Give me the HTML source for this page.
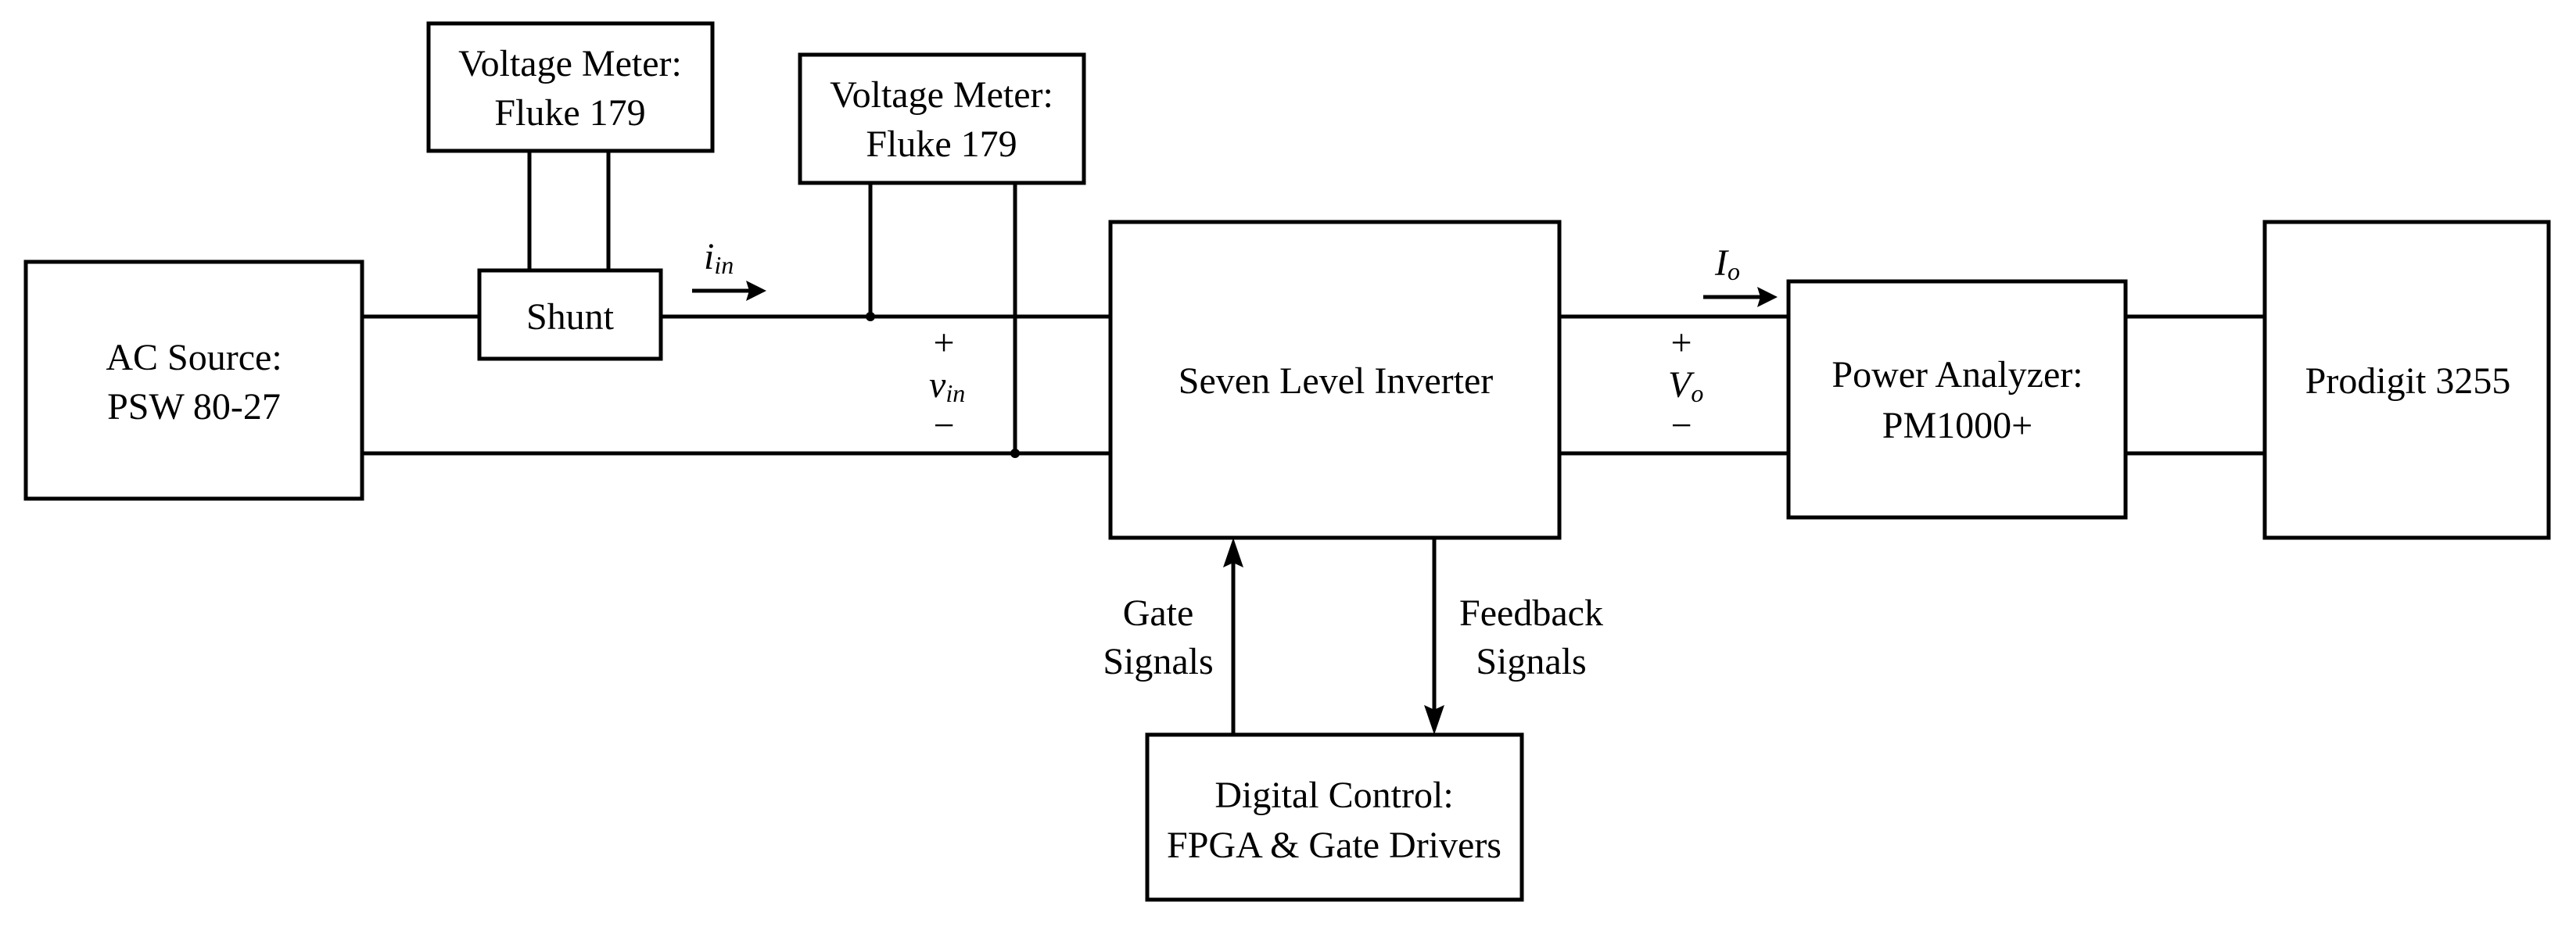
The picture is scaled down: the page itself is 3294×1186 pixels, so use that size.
<!DOCTYPE html>
<html><head><meta charset="utf-8"><style>html,body{margin:0;padding:0;background:#fff}svg{display:block}svg text{font-family:"Liberation Serif","Times New Roman",serif}</style></head>
<body>
<svg width="3294" height="1186" viewBox="0 0 3294 1186" xmlns="http://www.w3.org/2000/svg" font-size="48" fill="#000">
<g fill="none" stroke="#000" stroke-width="5">
<rect x="548" y="30" width="363" height="163"/>
<rect x="1023" y="70" width="363" height="164"/>
<rect x="33" y="335" width="430" height="303"/>
<rect x="613" y="346" width="232" height="113"/>
<rect x="1420" y="284" width="574" height="404"/>
<rect x="2287" y="360" width="431" height="302"/>
<rect x="2896" y="284" width="363" height="404"/>
<rect x="1467" y="940" width="479" height="211"/>
<line x1="677" y1="193" x2="677" y2="346"/>
<line x1="778" y1="193" x2="778" y2="346"/>
<line x1="463" y1="405" x2="613" y2="405"/>
<line x1="845" y1="405" x2="1420" y2="405"/>
<line x1="463" y1="580" x2="1420" y2="580"/>
<line x1="1113" y1="234" x2="1113" y2="405"/>
<line x1="1298" y1="234" x2="1298" y2="580"/>
<line x1="1994" y1="405" x2="2287" y2="405"/>
<line x1="1994" y1="580" x2="2287" y2="580"/>
<line x1="2718" y1="405" x2="2896" y2="405"/>
<line x1="2718" y1="580" x2="2896" y2="580"/>
<line x1="885" y1="372" x2="960" y2="372"/>
<line x1="2178" y1="380" x2="2253" y2="380"/>
<line x1="1577" y1="940" x2="1577" y2="715"/>
<line x1="1834" y1="688" x2="1834" y2="912"/>
</g>
<circle cx="1113" cy="405" r="6"/>
<circle cx="1298" cy="580" r="6"/>
<polygon points="980,372 954,359 958,372 954,385"/>
<polygon points="2273,380 2247,367 2251,380 2247,393"/>
<polygon points="1577,688 1564,726 1577,720 1590,726"/>
<polygon points="1834,940 1821,902 1834,908 1847,902"/>
<g text-anchor="middle">
<text x="729" y="97">Voltage Meter:</text>
<text x="729" y="160">Fluke 179</text>
<text x="1204" y="137">Voltage Meter:</text>
<text x="1204" y="200">Fluke 179</text>
<text x="248" y="473">AC Source:</text>
<text x="248" y="536">PSW 80-27</text>
<text x="729" y="421">Shunt</text>
<text x="1708" y="503">Seven Level Inverter</text>
<text x="2503" y="495">Power Analyzer:</text>
<text x="2503" y="560">PM1000+</text>
<text x="3079" y="503">Prodigit 3255</text>
<text x="1706" y="1033">Digital Control:</text>
<text x="1706" y="1097">FPGA &amp; Gate Drivers</text>
<text x="1481" y="800">Gate</text>
<text x="1481" y="862">Signals</text>
<text x="1958" y="800">Feedback</text>
<text x="1958" y="862">Signals</text>
<text x="1207" y="454" font-size="48">+</text>
<text x="1207" y="560" font-size="48">−</text>
<text x="2150" y="454" font-size="48">+</text>
<text x="2150" y="560" font-size="48">−</text>
</g>
<text x="900" y="344" font-style="italic">i<tspan font-size="32" dy="6">in</tspan></text>
<text x="1188" y="508" font-style="italic">v<tspan font-size="32" dy="6">in</tspan></text>
<text x="2193" y="352" font-style="italic">I<tspan font-size="32" dy="6">o</tspan></text>
<text x="2133" y="508" font-style="italic">V<tspan font-size="32" dy="6">o</tspan></text>
</svg>
</body></html>
